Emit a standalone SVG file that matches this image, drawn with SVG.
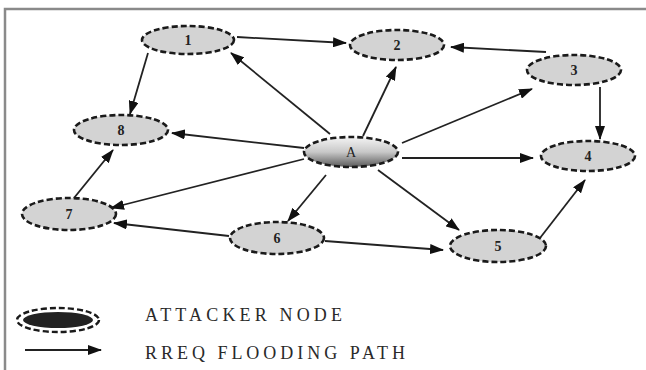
<svg xmlns="http://www.w3.org/2000/svg" width="646" height="370" viewBox="0 0 646 370">
<style>
.nd{fill:#d3d3d3;stroke:#1a1a1a;stroke-width:2.6;stroke-dasharray:6 3}
.lb{font-family:"Liberation Serif",serif;font-size:14px;font-weight:bold;fill:#222;text-anchor:middle}
.cn line{stroke:#222;stroke-width:1.8;marker-end:url(#ah)}
.lg{font-family:"Liberation Serif",serif;font-size:18px;fill:#2a2a2a}
</style>
<defs>
<marker id="ah" markerUnits="userSpaceOnUse" markerWidth="14" markerHeight="10" refX="13" refY="5" orient="auto">
<path d="M0,0 L14,5 L0,10 Z" fill="#111"/>
</marker>
<linearGradient id="ga" x1="0" y1="0" x2="0" y2="1">
<stop offset="0" stop-color="#f4f4f4"/>
<stop offset="0.5" stop-color="#c8c8c8"/>
<stop offset="1" stop-color="#5a5a5a"/>
</linearGradient>
</defs>
<rect width="646" height="370" fill="#fff"/>
<path d="M5,370 V9 H646" fill="none" stroke="#8a8a8a" stroke-width="2.5"/>
<g class="cn" id="connectors">
<line x1="237" y1="37" x2="346" y2="43"/>
<line x1="546" y1="52" x2="451" y2="47"/>
<line x1="148" y1="53" x2="130" y2="114"/>
<line x1="330" y1="134" x2="231" y2="53"/>
<line x1="363" y1="136" x2="396" y2="67"/>
<line x1="402" y1="143" x2="532" y2="89"/>
<line x1="600" y1="87" x2="600" y2="139"/>
<line x1="304" y1="148" x2="172" y2="133"/>
<line x1="402" y1="158" x2="533" y2="158"/>
<line x1="304" y1="159" x2="111" y2="208"/>
<line x1="326" y1="175" x2="288" y2="221"/>
<line x1="378" y1="170" x2="459" y2="230"/>
<line x1="74" y1="198" x2="113" y2="150"/>
<line x1="229" y1="236" x2="114" y2="223"/>
<line x1="325" y1="241" x2="443" y2="250"/>
<line x1="540" y1="238" x2="585" y2="180"/>
</g>
<g id="n1"><ellipse class="nd" cx="188" cy="40" rx="46" ry="14"/><text class="lb" x="188" y="45">1</text></g>
<g id="n2"><ellipse class="nd" cx="397" cy="45" rx="47" ry="15"/><text class="lb" x="397" y="50">2</text></g>
<g id="n3"><ellipse class="nd" cx="574" cy="70" rx="47" ry="15"/><text class="lb" x="574" y="75">3</text></g>
<g id="n4"><ellipse class="nd" cx="588" cy="156" rx="47" ry="15"/><text class="lb" x="588" y="161">4</text></g>
<g id="n5"><ellipse class="nd" cx="498" cy="246" rx="48" ry="16"/><text class="lb" x="498" y="251">5</text></g>
<g id="n6"><ellipse class="nd" cx="277" cy="238" rx="47" ry="16"/><text class="lb" x="277" y="243">6</text></g>
<g id="n7"><ellipse class="nd" cx="69" cy="214" rx="47" ry="16"/><text class="lb" x="69" y="219">7</text></g>
<g id="n8"><ellipse class="nd" cx="121" cy="130" rx="47" ry="15"/><text class="lb" x="121" y="135">8</text></g>
<g id="nA"><ellipse class="nd" cx="351" cy="152" rx="47" ry="15" style="fill:url(#ga)"/><text class="lb" x="351" y="157" style="font-weight:normal">A</text></g>
<g id="legend">
<ellipse cx="58" cy="320" rx="41" ry="12" fill="none" stroke="#1a1a1a" stroke-width="2.4" stroke-dasharray="6 3"/>
<ellipse cx="58" cy="320" rx="35" ry="8" fill="#222"/>
<text class="lg" x="145" y="321" textLength="197" lengthAdjust="spacing">ATTACKER NODE</text>
<line x1="25" y1="350" x2="101" y2="350" stroke="#222" stroke-width="1.8" marker-end="url(#ah)"/>
<text class="lg" x="145" y="359" textLength="260" lengthAdjust="spacing">RREQ FLOODING PATH</text>
</g>
</svg>
